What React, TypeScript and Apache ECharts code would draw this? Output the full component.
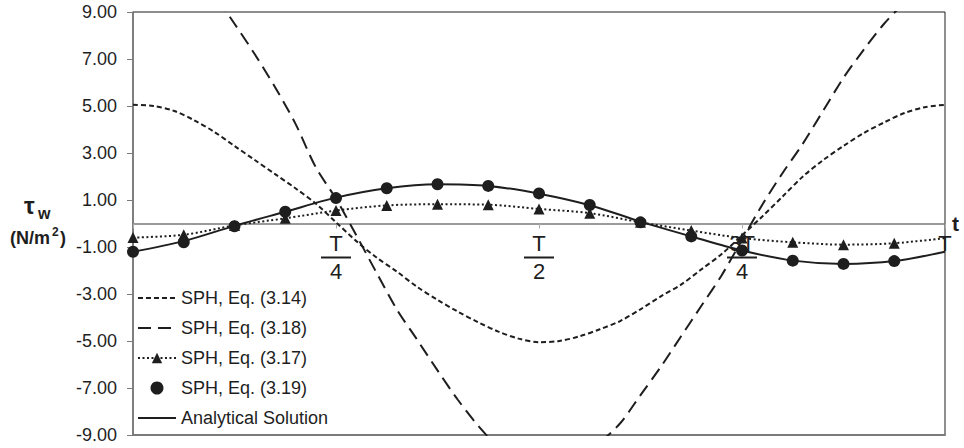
import React, { useEffect, useRef } from "react";
import * as echarts from "echarts";

// time as fraction of period T
const tFine = [
  0, 0.025, 0.05, 0.075, 0.1, 0.125, 0.15, 0.175, 0.2, 0.225, 0.25, 0.275, 0.3, 0.325, 0.35, 0.375, 0.4,
  0.425, 0.45, 0.475, 0.5, 0.525, 0.55, 0.575, 0.6, 0.625, 0.65, 0.675, 0.7, 0.725, 0.75, 0.775, 0.8,
  0.825, 0.85, 0.875, 0.9, 0.925, 0.95, 0.975, 1,
];
const tMarks = [
  0, 0.0625, 0.125, 0.1875, 0.25, 0.3125, 0.375, 0.4375, 0.5, 0.5625, 0.625, 0.6875, 0.75, 0.8125,
  0.875, 0.9375, 1,
];

const eq314 = [
  5.05, 5.0, 4.8, 4.4, 3.9, 3.3, 2.7, 2.1, 1.5, 0.85, 0.05, -0.75, -1.45, -2.05, -2.7, -3.25, -3.75,
  -4.2, -4.6, -4.9, -5.05, -5.0, -4.8, -4.5, -4.15, -3.65, -3.1, -2.6, -1.95, -1.3, -0.5, 0.3, 1.15,
  2.0, 2.7, 3.3, 3.85, 4.3, 4.7, 4.95, 5.05,
];
const eq318 = [
  11.5, 11.4, 11.0, 10.4, 9.7, 8.5, 7.2, 5.8, 4.25, 2.4, 1.05, -0.5, -2.1, -3.66, -4.95, -6.25, -7.5,
  -8.6, -9.5, -10.0, -10.2, -10.1, -9.8, -9.3, -8.5, -7.3, -6.1, -4.8, -3.5, -2.2, -0.7, 0.8, 2.15,
  3.4, 4.8, 6.2, 7.4, 8.5, 9.4, 10.2, 11.0,
];
const eq317 = [
  -0.6, -0.48, -0.08, 0.22, 0.55, 0.77, 0.82, 0.8, 0.62, 0.44, 0.05, -0.3, -0.62, -0.8, -0.9, -0.84, -0.62,
];
const eq319 = [
  -1.2, -0.8, -0.12, 0.5, 1.08, 1.5, 1.67, 1.6, 1.28, 0.79, 0.05, -0.55, -1.15, -1.58, -1.72, -1.6,
];
const analytical = [
  -1.2, -0.75, -0.1, 0.5, 1.1, 1.5, 1.67, 1.6, 1.27, 0.78, 0.08, -0.55, -1.15, -1.58, -1.72, -1.6, -1.2,
];

const seriesNames = [
  "SPH, Eq. (3.14)",
  "SPH, Eq. (3.18)",
  "SPH, Eq. (3.17)",
  "SPH, Eq. (3.19)",
  "Analytical Solution",
];
const xTickLabels: Record<string, string> = {
  "0.25": "{n|T}\n{b| }\n{d|4}",
  "0.5": "{n|T}\n{b| }\n{d|2}",
  "0.75": "{n|3T}\n{b| }\n{d|4}",
  "1": "{n|T}",
};

const FONT = "'Liberation Sans', Arial, Helvetica, sans-serif";
const INK = "#1e1e1e";
const AXIS_GRAY = "#7a7a7a";

// layout
const GRID_TOP = 12;
const GRID_BOTTOM = 13;
const CHART_H = 448;
const HALF_PLOT = (CHART_H - GRID_TOP - GRID_BOTTOM) / 2; // distance from bottom edge to the y = 0 line

export default function App() {
  const ref = useRef<HTMLDivElement>(null);
  useEffect(() => {
    if (!ref.current) return;
    const chart = echarts.init(ref.current, null, { renderer: "svg" });
    const pair = (ts: number[], vs: number[]) => vs.map((v, i) => [ts[i], v]);
    const hidden = { opacity: 0 };
    const option: any = {
      animation: false,
      backgroundColor: "#ffffff",
      grid: {
        left: 133,
        right: 19,
        top: GRID_TOP,
        bottom: GRID_BOTTOM,
        containLabel: false,
        outerBoundsMode: "none",
        show: true,
        borderColor: INK,
        borderWidth: 1,
        backgroundColor: "transparent",
      },
      legend: {
        orient: "vertical",
        left: 137,
        top: 288,
        padding: 0,
        itemWidth: 38,
        itemHeight: 13,
        itemGap: 10,
        data: [
          { name: seriesNames[0], itemStyle: hidden },
          { name: seriesNames[1], itemStyle: hidden },
          { name: seriesNames[2] },
          { name: seriesNames[3], icon: "circle" },
          { name: seriesNames[4], itemStyle: hidden },
        ],
        textStyle: { fontFamily: FONT, fontSize: 18, color: INK, lineHeight: 20 },
      },
      xAxis: [
        {
          type: "value",
          min: 0,
          max: 1,
          interval: 0.25,
          name: "t",
          nameLocation: "end",
          nameGap: 7,
          nameTextStyle: { fontFamily: FONT, fontSize: 21, fontWeight: "bold", color: INK, padding: [0, 0, 6, 0] },
          axisLine: { show: true, onZero: true, onZeroAxisIndex: 0, lineStyle: { color: AXIS_GRAY, width: 1.5 } },
          axisTick: { show: true, length: 5, lineStyle: { color: "#aaaaaa", width: 1 } },
          splitLine: { show: false },
          axisLabel: { show: false },
        },
        {
          type: "value",
          min: 0,
          max: 1,
          position: "bottom",
          axisLine: { show: true, onZero: false, lineStyle: { color: AXIS_GRAY, width: 2 } },
          axisTick: { show: false },
          axisLabel: { show: false },
          splitLine: { show: false },
        },
        {
          // tick labels (fractions of the period) sitting under the y = 0 line
          type: "value",
          min: 0,
          max: 1,
          interval: 0.25,
          position: "bottom",
          offset: -HALF_PLOT,
          z: 10,
          axisLine: { show: false, onZero: false },
          axisTick: { show: false },
          splitLine: { show: false },
          axisLabel: {
            margin: 9,
            showMinLabel: false,
            formatter: (v: number) => xTickLabels[String(v)] || "",
            rich: {
              n: { fontFamily: FONT, fontSize: 22, lineHeight: 22, color: INK, align: "center" },
              d: { fontFamily: FONT, fontSize: 22, lineHeight: 22, color: INK, align: "center" },
              b: { width: 30, height: 2, lineHeight: 6, fontSize: 2, backgroundColor: INK, align: "center" },
            },
          },
        },
      ],
      yAxis: [
        {
          type: "value",
          min: -9,
          max: 9,
          axisLine: { show: false },
          axisTick: { show: false },
          axisLabel: { show: false },
          splitLine: { show: false },
        },
        {
          type: "value",
          min: 0,
          max: 18,
          interval: 2,
          position: "left",
          axisLine: { show: true, onZero: false, lineStyle: { color: AXIS_GRAY, width: 1.5 } },
          axisTick: { show: true, inside: false, length: 6, lineStyle: { color: AXIS_GRAY, width: 1 } },
          splitLine: { show: false },
          axisLabel: {
            margin: 16,
            fontFamily: FONT,
            fontSize: 18,
            color: INK,
            formatter: (v: number) => (v - 9).toFixed(2),
          },
        },
      ],
      series: [
        {
          name: seriesNames[0],
          type: "line",
          xAxisIndex: 0,
          yAxisIndex: 0,
          data: pair(tFine, eq314),
          smooth: 0.3,
          showSymbol: false,
          symbol: "none",
          lineStyle: { color: INK, width: 2, type: [5, 3] },
          itemStyle: { color: INK },
          z: 2,
        },
        {
          name: seriesNames[1],
          type: "line",
          xAxisIndex: 0,
          yAxisIndex: 0,
          data: pair(tFine, eq318),
          smooth: 0.3,
          showSymbol: false,
          symbol: "none",
          lineStyle: { color: INK, width: 2, type: [13, 7] },
          itemStyle: { color: INK },
          z: 2,
        },
        {
          name: seriesNames[2],
          type: "line",
          xAxisIndex: 0,
          yAxisIndex: 0,
          data: pair(tMarks, eq317).map((p, i) =>
            i === tMarks.length - 1 ? { value: p, symbol: "none" } : p
          ),
          smooth: 0.3,
          symbol: "triangle",
          symbolSize: 11,
          showAllSymbol: true,
          lineStyle: { color: INK, width: 2, type: [2, 2.5] },
          itemStyle: { color: INK, opacity: 1 },
          z: 3,
        },
        {
          name: seriesNames[3],
          type: "scatter",
          xAxisIndex: 0,
          yAxisIndex: 0,
          data: pair(tMarks, eq319),
          symbol: "circle",
          symbolSize: 12,
          itemStyle: { color: INK, opacity: 1 },
          z: 4,
        },
        {
          name: seriesNames[4],
          type: "line",
          xAxisIndex: 0,
          yAxisIndex: 0,
          data: pair(tMarks, analytical),
          smooth: 0.3,
          showSymbol: false,
          symbol: "none",
          lineStyle: { color: INK, width: 2, type: "solid" },
          itemStyle: { color: INK },
          z: 3,
        },
      ],
      graphic: [
        {
          type: "text",
          left: 24,
          top: 193,
          style: { text: "τ", font: `bold 24px ${FONT}`, fill: INK },
        },
        {
          type: "text",
          left: 38,
          top: 205,
          style: { text: "w", font: `bold 16px ${FONT}`, fill: INK },
        },
        {
          type: "text",
          left: 10,
          top: 229,
          style: { text: "(N/m", font: `bold 18px ${FONT}`, fill: INK },
        },
        {
          type: "text",
          left: 52,
          top: 226,
          style: { text: "2", font: `bold 12px ${FONT}`, fill: INK },
        },
        {
          type: "text",
          left: 60,
          top: 229,
          style: { text: ")", font: `bold 18px ${FONT}`, fill: INK },
        },
      ],
    };
    chart.setOption(option);
    return () => chart.dispose();
  }, []);
  return <div ref={ref} style={{ width: 964, height: 448, position: "absolute", left: 0, top: 0 }} />;
}
